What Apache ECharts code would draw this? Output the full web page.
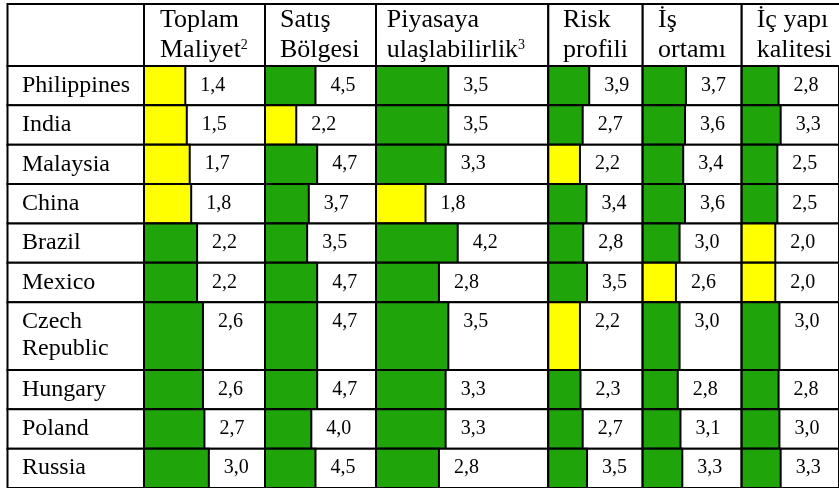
<!DOCTYPE html>
<html>
<head>
<meta charset="utf-8">
<script src="https://cdn.jsdelivr.net/npm/echarts@6/dist/echarts.min.js"></script>
<style>
  html, body { margin: 0; padding: 0; background: #fff; }
  #chart { width: 839px; height: 488px; }
</style>
</head>
<body>
<div id="chart"></div>
<script>
// Country rows (a '\n' splits a name over two lines)
const countries = ['Philippines', 'India', 'Malaysia', 'China', 'Brazil', 'Mexico',
  'Czech\nRepublic', 'Hungary', 'Poland', 'Russia'];

// Column headings ({sup|...} marks a footnote number)
const headings = ['', 'Toplam\nMaliyet{sup|2}', 'Satış\nBölgesi', 'Piyasaya\nulaşlabilirlik{sup|3}',
  'Risk\nprofili', 'İş\nortamı', 'İç yapı\nkalitesi'];

// Scores per criterion, one per country
const toplamMaliyet   = [1.4, 1.5, 1.7, 1.8, 2.2, 2.2, 2.6, 2.6, 2.7, 3.0];
const satisBolgesi    = [4.5, 2.2, 4.7, 3.7, 3.5, 4.7, 4.7, 4.7, 4.0, 4.5];
const piyasaya        = [3.5, 3.5, 3.3, 1.8, 4.2, 2.8, 3.5, 3.3, 3.3, 2.8];
const riskProfili     = [3.9, 2.7, 2.2, 3.4, 2.8, 3.5, 2.2, 2.3, 2.7, 3.5];
const isOrtami        = [3.7, 3.6, 3.4, 3.6, 3.0, 2.6, 3.0, 2.8, 3.1, 3.3];
const icYapiKalitesi  = [2.8, 3.3, 2.5, 2.5, 2.0, 2.0, 3.0, 2.8, 3.0, 3.3];

// Scores below these limits are flagged in yellow
const flagBelow = [2.0, 3.0, 2.5, 2.25, 2.7, 2.25];

const seriesValues = [toplamMaliyet, satisBolgesi, piyasaya, riskProfili, isOrtami, icYapiKalitesi];

// ---- layout & style ----
const FONT = '"Liberation Serif", "Times New Roman", serif';
const GREEN = '#1fa50a';
const YELLOW = '#ffff00';
const LINE = '#000';
const LW = 2;
const TABLE_TOP = 4;
const BODY_TOP = 66;
const ROW_PAD = 11;
const LINE_H = 28.5;
const colEdges = [7.5, 144, 265, 376, 548.3, 642.7, 741.7, 842];
const headPad = [0, 16, 15, 10.7, 14.7, 15.3, 15];
// value range covered by each criterion column (left edge .. right edge)
const colDomains = [[-1.41, 6.82], [-1.54, 11.74], [-1.89, 10.95], [-3.61, 13.71], [-1.06, 9.84], [-6.11, 17.38]];

// row spans along the body's vertical axis
const rowSpans = [];
let acc = 0;
countries.forEach(c => {
  const h = ROW_PAD + LINE_H * c.split('\n').length;
  rowSpans.push([acc, acc + h]);
  acc += h;
});
const bodyHeight = acc;

const fmt = v => v.toFixed(1).replace('.', ',');

const grids = [], xAxes = [], yAxes = [], series = [];
for (let c = 0; c < 7; c++) {
  grids.push({ left: colEdges[c], top: BODY_TOP, width: colEdges[c + 1] - colEdges[c], height: bodyHeight });
  const dom = c === 0 ? [0, 1] : colDomains[c - 1];
  xAxes.push({ type: 'value', gridIndex: c, min: dom[0], max: dom[1], show: false });
  yAxes.push({ type: 'value', gridIndex: c, min: 0, max: bodyHeight, inverse: true, show: false });
}

// country name column
series.push({
  type: 'custom',
  xAxisIndex: 0, yAxisIndex: 0,
  silent: true,
  data: countries.map((name, i) => [rowSpans[i][0], rowSpans[i][1], i]),
  renderItem(params, api) {
    const i = api.value(2);
    const tl = api.coord([0, api.value(0)]);
    const br = api.coord([1, api.value(1)]);
    return {
      type: 'group',
      children: [
        { type: 'rect', shape: { x: tl[0], y: tl[1], width: br[0] - tl[0], height: br[1] - tl[1] },
          style: { fill: '#fff', stroke: LINE, lineWidth: LW } },
        { type: 'text', x: tl[0] + 14.5, y: tl[1] + 6,
          style: { text: countries[i], font: '24px ' + FONT, fill: '#000',
                   verticalAlign: 'top', align: 'left', lineHeight: 27 } }
      ]
    };
  }
});

// criterion columns: bar from the column's start up to the score
seriesValues.forEach((vals, k) => {
  const c = k + 1;
  const dom = colDomains[k];
  series.push({
    type: 'custom',
    name: headings[c],
    xAxisIndex: c, yAxisIndex: c,
    silent: true,
    data: vals.map((v, i) => [v, rowSpans[i][0], rowSpans[i][1]]),
    renderItem(params, api) {
      const v = api.value(0);
      const tl = api.coord([dom[0], api.value(1)]);
      const br = api.coord([v, api.value(2)]);
      const right = api.coord([dom[1], api.value(1)])[0];
      const h = br[1] - tl[1];
      return {
        type: 'group',
        children: [
          { type: 'rect', shape: { x: tl[0], y: tl[1], width: right - tl[0], height: h },
            style: { fill: '#fff', stroke: LINE, lineWidth: LW } },
          { type: 'rect', shape: { x: tl[0], y: tl[1], width: br[0] - tl[0], height: h },
            style: { fill: v < flagBelow[k] ? YELLOW : GREEN, stroke: LINE, lineWidth: LW } },
          { type: 'text', x: br[0] + 15, y: tl[1] + 19.5,
            style: { text: fmt(v), font: '20px ' + FONT, fill: '#000',
                     verticalAlign: 'middle', align: 'left' } }
        ]
      };
    }
  });
});

// header row
const headerGraphics = [];
for (let c = 0; c < 7; c++) {
  headerGraphics.push({
    type: 'rect',
    shape: { x: colEdges[c], y: TABLE_TOP, width: colEdges[c + 1] - colEdges[c], height: BODY_TOP - TABLE_TOP },
    style: { fill: '#fff', stroke: LINE, lineWidth: LW },
    z: 0
  });
  if (headings[c]) {
    headerGraphics.push({
      type: 'text',
      x: colEdges[c] + headPad[c], y: TABLE_TOP + 1.5,
      z: 1,
      style: {
        text: headings[c],
        font: '26px ' + FONT,
        fill: '#000',
        align: 'left',
        verticalAlign: 'top',
        lineHeight: 30,
        rich: {
          sup: { font: '14px ' + FONT, fill: '#000', verticalAlign: 'top', padding: [3, 0, 0, 0] }
        }
      }
    });
  }
}

const chart = echarts.init(document.getElementById('chart'), null, { renderer: 'canvas' });
chart.setOption({
  backgroundColor: '#fff',
  animation: false,
  grid: grids,
  xAxis: xAxes,
  yAxis: yAxes,
  series: series,
  graphic: headerGraphics
});
</script>
</body>
</html>
